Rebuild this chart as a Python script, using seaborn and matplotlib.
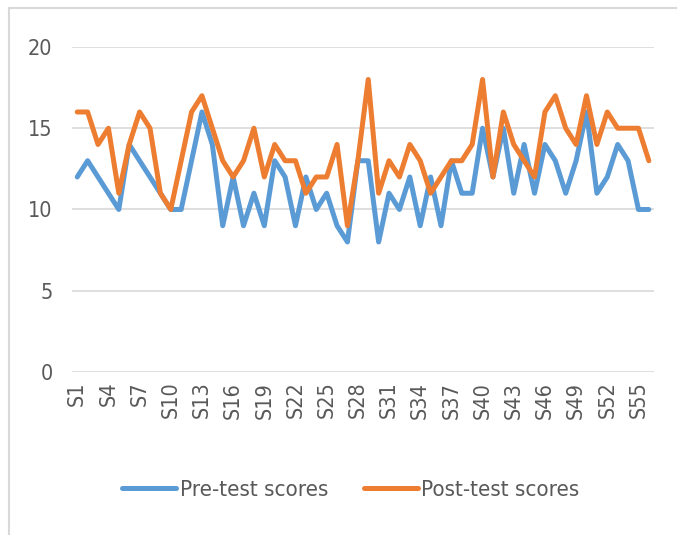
import matplotlib
matplotlib.use("Agg")
import matplotlib.pyplot as plt
import seaborn as sns
import pandas as pd
from matplotlib.lines import Line2D

students = ["S%d" % i for i in range(1, 57)]

pre_test = [12, 13, 12, 11, 10, 14, 13, 12, 11, 10,
            10, 13, 16, 14, 9, 12, 9, 11, 9, 13,
            12, 9, 12, 10, 11, 9, 8, 13, 13, 8,
            11, 10, 12, 9, 12, 9, 13, 11, 11, 15,
            12, 15, 11, 14, 11, 14, 13, 11, 13, 16,
            11, 12, 14, 13, 10, 10]

post_test = [16, 16, 14, 15, 11, 14, 16, 15, 11, 10,
             13, 16, 17, 15, 13, 12, 13, 15, 12, 14,
             13, 13, 11, 12, 12, 14, 9, 13, 18, 11,
             13, 12, 14, 13, 11, 12, 13, 13, 14, 18,
             12, 16, 14, 13, 12, 16, 17, 15, 14, 17,
             14, 16, 15, 15, 15, 13]

series_names = ["Pre-test scores", "Post-test scores"]
colors = ["#5B9BD5", "#ED7D31"]

df = pd.DataFrame({"student": students, "pos": range(len(students)),
                   series_names[0]: pre_test, series_names[1]: post_test})
long_df = df.melt(id_vars=["student", "pos"], var_name="series", value_name="score")

sns.set_style("white")
plt.rcParams["font.family"] = ["DejaVu Sans"]
plt.rcParams["font.stretch"] = "condensed"

fig = plt.figure(figsize=(6.77, 5.35), dpi=100)
ax = fig.add_axes([0.1064, 0.3047, 0.8597, 0.6075])

sns.lineplot(data=long_df, x="pos", y="score", hue="series", palette=colors,
             hue_order=series_names, linewidth=3.6, ax=ax, legend=False)

ax.set_xlim(-0.5, len(students) - 0.5)
ax.set_ylim(0, 20)
ax.set_yticks([0, 5, 10, 15, 20])
ax.yaxis.grid(True, color="#D9D9D9", linewidth=1.2)
ax.set_axisbelow(True)
ax.set_xticks(range(0, len(students), 3))
ax.set_xticklabels(students[::3], rotation=90)
ax.tick_params(axis="both", length=0, labelsize=15.5, labelcolor="#595959")
ax.tick_params(axis="y", pad=14)
ax.tick_params(axis="x", pad=7)
ax.set_xlabel("")
ax.set_ylabel("")
for s in ["top", "right", "left", "bottom"]:
    ax.spines[s].set_visible(False)

handles = [Line2D([], [], color=c, linewidth=3.6) for c in colors]
fig.legend(handles, series_names, loc="center", bbox_to_anchor=(0.518, 0.085),
           ncol=2, frameon=False, fontsize=16, handlelength=2.45,
           handletextpad=0.15, columnspacing=1.6, labelcolor="#595959")

# chart area border (only top and left visible in the crop)
fig.add_artist(Line2D([0.013, 1.0], [0.985, 0.985], color="#D9D9D9",
                      linewidth=1.5, transform=fig.transFigure))
fig.add_artist(Line2D([0.013, 0.013], [0.0, 0.985], color="#D9D9D9",
                      linewidth=1.5, transform=fig.transFigure))

fig.savefig("out.png", dpi=100)
